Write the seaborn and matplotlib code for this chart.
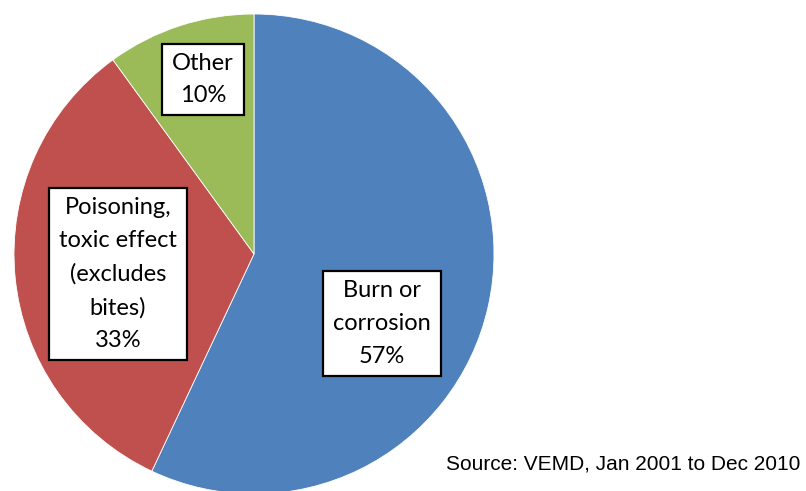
import matplotlib
matplotlib.use("Agg")
import matplotlib.pyplot as plt
from matplotlib.patches import Rectangle
import seaborn as sns

# Injury cause shares (percent)
categories = ["Burn or\ncorrosion", "Poisoning,\ntoxic effect\n(excludes\nbites)", "Other"]
shares = [57, 33, 10]
colors = ["#4F81BD", "#C0504D", "#9BBB59"]
source_note = "Source: VEMD, Jan 2001 to Dec 2010"

# label anchor points in pie data units (radius = 1)
label_xy = [(0.533, -0.290), (-0.567, -0.083), (-0.2125, 0.727)]

sns.set_theme(style="white")
plt.rcParams["font.family"] = ["Lato", "DejaVu Sans"]

W, H = 806, 491
fig = plt.figure(figsize=(W / 100, H / 100), dpi=100)
cx, cy, r = 254, 254, 240
ax = fig.add_axes([(cx - r) / W, (H - cy - r) / H, 2 * r / W, 2 * r / H])

ax.pie(shares, colors=colors, startangle=90, counterclock=False, radius=1,
       wedgeprops=dict(edgecolor="white", linewidth=0.6))
ax.set_xlim(-1, 1)
ax.set_ylim(-1, 1)
ax.set_aspect("equal")
ax.axis("off")

LS = 1.7
texts = []
for cat, val, (x, y) in zip(categories, shares, label_xy):
    t = ax.text(x, y, f"{cat}\n{val}%", ha="center", va="center",
                fontsize=17, linespacing=LS, color="black", zorder=5)
    texts.append(t)

fig.canvas.draw()
renderer = fig.canvas.get_renderer()
padx, pady = 10, 9
for t in texts:
    bb = t.get_window_extent(renderer)
    rect = Rectangle(((bb.x0 - padx) / W, (bb.y0 - pady) / H),
                     (bb.width + 2 * padx) / W, (bb.height + 2 * pady) / H,
                     transform=fig.transFigure, facecolor="white",
                     edgecolor="black", linewidth=1.6, zorder=4)
    fig.patches.append(rect)
    t.remove()
    fig.text((bb.x0 + bb.x1) / 2 / W, (bb.y0 + bb.y1) / 2 / H, t.get_text(),
             ha="center", va="center", fontsize=17, linespacing=LS,
             color="black", zorder=6)

fig.text(800 / W, (H - 464) / H, source_note, ha="right", va="center",
         fontsize=15, family="Liberation Sans", color="black")

fig.savefig("out.png", dpi=100)
